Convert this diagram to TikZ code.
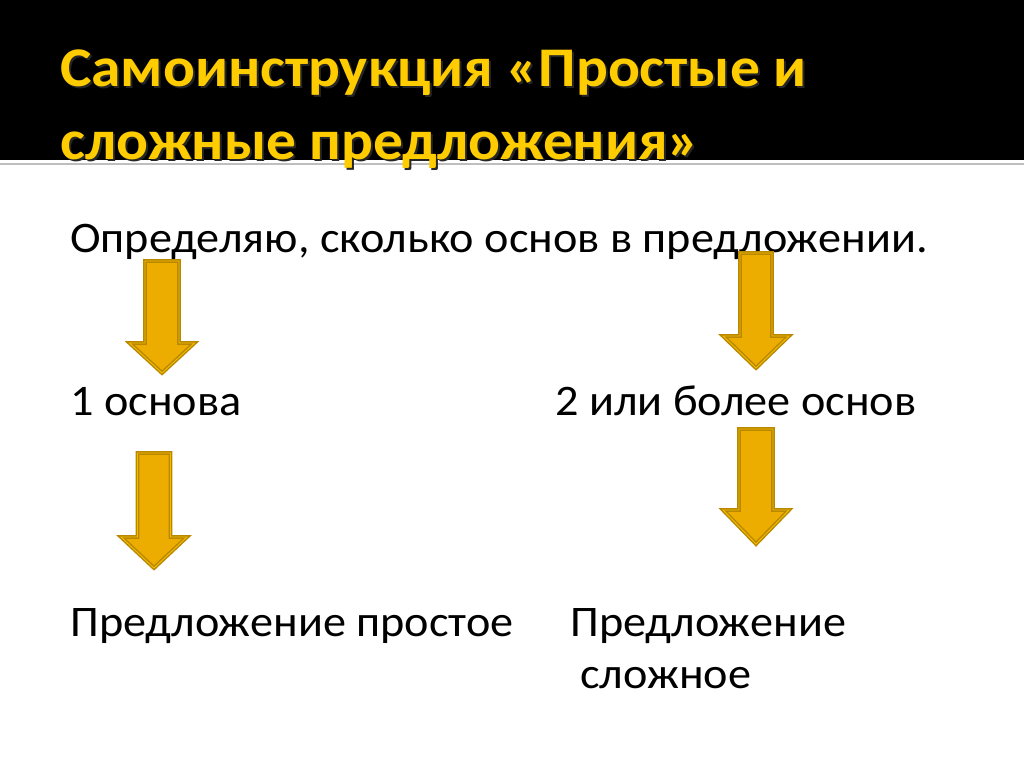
\documentclass[tikz,border=0pt]{standalone}
\usepackage{fontspec}
\setmainfont{Carlito}[FakeStretch=1.06]
\definecolor{titleyellow}{RGB}{255,204,0}
\definecolor{arrowfill}{RGB}{236,173,0}
\definecolor{arrowedge}{RGB}{185,135,0}
\definecolor{sepgray}{RGB}{190,190,190}
\tikzset{
  bodytext/.style={anchor=base west, inner sep=0pt, font=\fontsize{32.7}{40}\selectfont, text=black},
  titletext/.style={anchor=base west, inner sep=0pt, font=\fontsize{42}{52}\bfseries\selectfont},
  blockarr/.style={fill=arrowfill, draw=arrowedge, line width=1.1pt, double=arrowfill!80!yellow, double distance=0.7pt, line join=miter},
}
\newcommand\blockarrow[6]{%
  \draw[blockarr] ({#1-#5},#2) -- ({#1+#5},#2) -- ({#1+#5},#3) -- ({#1+#6},#3) -- (#1,#4) -- ({#1-#6},#3) -- ({#1-#5},#3) -- cycle;}
\begin{document}
\begin{tikzpicture}[x=0.75pt,y=-0.75pt]
\useasboundingbox (0,0) rectangle (1024,767);
\fill[white] (0,0) rectangle (1024,767);
\fill[black] (0,0) rectangle (1024,160);
\draw[sepgray, line width=1.5pt] (0,163.5) -- (1024,163.5);
% title
\node[titletext, text=black!85] at (62,89) {Самоинструкция «Простые и};
\node[titletext, text=black!85] at (62,161) {сложные предложения»};
\node[titletext, text=titleyellow] (title1) at (60,87) {Самоинструкция «Простые и};
\node[titletext, text=titleyellow] (title2) at (60,159) {сложные предложения»};
% body text
\node[bodytext] (t1) at (70,252) {Определяю, сколько основ в предложении.};
\node[bodytext] (t2) at (70,415) {1 основа};
\node[bodytext] (t3) at (555,415) {2 или более основ};
\node[bodytext] (t4) at (70,636) {Предложение простое};
\node[bodytext] (t5) at (570,636) {Предложение};
\node[bodytext] (t6) at (580,688) {сложное};
% arrows
\blockarrow{162}{261}{343}{373}{17}{32.5}
\blockarrow{756}{253}{336}{368}{16}{33}
\blockarrow{154}{453}{537}{568}{16.5}{33}
\blockarrow{756}{429}{510}{544}{17}{33}
\end{tikzpicture}
\end{document}
